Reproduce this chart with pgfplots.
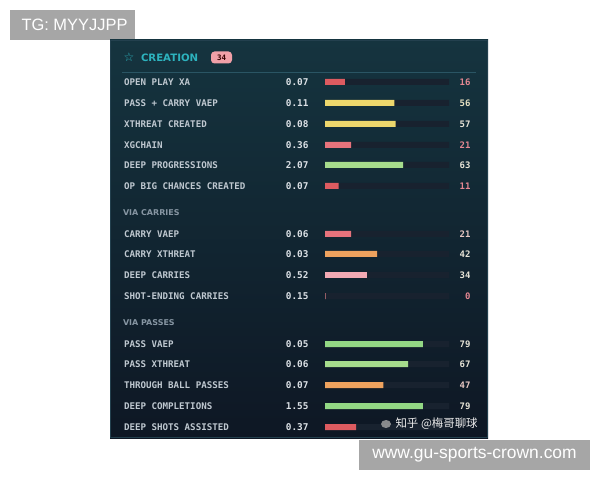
\documentclass[border=0pt]{standalone}
\usepackage{pgfplots}
\pgfplotsset{compat=1.18}
\usepackage{fontspec}
\setmainfont{DejaVu Sans}
\newfontfamily\mono{DejaVu Sans Mono}
\newfontfamily\lib{Liberation Sans}
\newfontfamily\cjk{Noto Sans CJK SC}
\definecolor{paneltop}{HTML}{15343F}
\definecolor{panelbot}{HTML}{0E1724}
\definecolor{border}{HTML}{23404E}
\definecolor{divider}{HTML}{2A5564}
\definecolor{track}{HTML}{18222F}
\definecolor{lab}{HTML}{BFC8D0}
\definecolor{valc}{HTML}{DCE1E6}
\definecolor{teal}{HTML}{2DB3BE}
\definecolor{head}{HTML}{8796A3}
\definecolor{cred}{HTML}{DD5B60}
\definecolor{cpinkred}{HTML}{E7737C}
\definecolor{cyellow}{HTML}{EDD76C}
\definecolor{cgreen}{HTML}{A6DC8C}
\definecolor{cgreen2}{HTML}{93D884}
\definecolor{corange}{HTML}{EEA25E}
\definecolor{cpink}{HTML}{F2A9B3}
\definecolor{pctpink}{HTML}{E58792}
\definecolor{pctlight}{HTML}{E6E3D6}
\definecolor{badge}{HTML}{F1A0A8}
\definecolor{graybox}{HTML}{A6A6A6}
\tikzset{
  lbl/.style={anchor=west,text=lab,font=\mono\bfseries\fontsize{9.2}{11}\selectfont},
  val/.style={anchor=east,text=valc,font=\mono\bfseries\fontsize{9.4}{11}\selectfont},
  pct/.style={anchor=east,font=\mono\bfseries\fontsize{9}{11}\selectfont},
  sub/.style={anchor=west,text=head,font=\bfseries\fontsize{8}{9}\selectfont},
}
\begin{document}
\begin{tikzpicture}
\begin{axis}[at={(0,0)},anchor=south west,width=600bp,height=480bp,scale only axis,
  xmin=0,xmax=600,ymin=0,ymax=480,y dir=reverse,hide axis,clip=false]
\fill[white] (axis cs:0,0) rectangle (axis cs:600,480);
% corner boxes
\fill[graybox] (axis cs:10,10) rectangle (axis cs:135,40);
\node[anchor=west,text=white,font=\lib\fontsize{16.5}{18}\selectfont] at (axis cs:18,25) {TG: MYYJJPP};
% panel
\shade[top color=paneltop,bottom color=panelbot] (axis cs:110,40) rectangle (axis cs:488,438);
\draw[border,line width=1.2bp] (axis cs:110.5,40.5) rectangle (axis cs:487.5,437.5);
\draw[divider,line width=0.8bp] (axis cs:122,72) -- (axis cs:476,72);
% header
\node[anchor=center,text=teal,font=\bfseries\fontsize{12}{14}\selectfont] at (axis cs:129,57.5) {☆};
\node[anchor=west,text=teal,font=\bfseries\fontsize{10.2}{12}\selectfont] at (axis cs:137.5,57.5) {CREATION};
\fill[badge,rounded corners=3.5bp] (axis cs:211,51.5) rectangle (axis cs:232,63.5);
\node[text=black!80!red,font=\mono\bfseries\fontsize{7.5}{9}\selectfont] at (axis cs:221.5,57.5) {34};
% labels
\node[lbl] at (axis cs:120.5,82) {OPEN PLAY XA};
\node[lbl] at (axis cs:120.5,103) {PASS + CARRY VAEP};
\node[lbl] at (axis cs:120.5,124) {XTHREAT CREATED};
\node[lbl] at (axis cs:120.5,145) {XGCHAIN};
\node[lbl] at (axis cs:120.5,165) {DEEP PROGRESSIONS};
\node[lbl] at (axis cs:120.5,186) {OP BIG CHANCES CREATED};
\node[sub] at (axis cs:119.5,213) {VIA CARRIES};
\node[lbl] at (axis cs:120.5,234) {CARRY VAEP};
\node[lbl] at (axis cs:120.5,254) {CARRY XTHREAT};
\node[lbl] at (axis cs:120.5,275) {DEEP CARRIES};
\node[lbl] at (axis cs:120.5,296) {SHOT-ENDING CARRIES};
\node[sub] at (axis cs:119.5,323) {VIA PASSES};
\node[lbl] at (axis cs:120.5,344) {PASS VAEP};
\node[lbl] at (axis cs:120.5,364) {PASS XTHREAT};
\node[lbl] at (axis cs:120.5,385) {THROUGH BALL PASSES};
\node[lbl] at (axis cs:120.5,406) {DEEP COMPLETIONS};
\node[lbl] at (axis cs:120.5,427) {DEEP SHOTS ASSISTED};
% values
\node[val] at (axis cs:312,82) {0.07};
\node[val] at (axis cs:312,103) {0.11};
\node[val] at (axis cs:312,124) {0.08};
\node[val] at (axis cs:312,145) {0.36};
\node[val] at (axis cs:312,165) {2.07};
\node[val] at (axis cs:312,186) {0.07};
\node[val] at (axis cs:312,234) {0.06};
\node[val] at (axis cs:312,254) {0.03};
\node[val] at (axis cs:312,275) {0.52};
\node[val] at (axis cs:312,296) {0.15};
\node[val] at (axis cs:312,344) {0.05};
\node[val] at (axis cs:312,364) {0.06};
\node[val] at (axis cs:312,385) {0.07};
\node[val] at (axis cs:312,406) {1.55};
\node[val] at (axis cs:312,427) {0.37};
% percentiles
\node[pct,text=pctpink] at (axis cs:474,82) {16};
\node[pct,text=pctlight!80!cyellow] at (axis cs:474,103) {56};
\node[pct,text=pctlight] at (axis cs:474,124) {57};
\node[pct,text=pctpink] at (axis cs:474,145) {21};
\node[pct,text=pctlight] at (axis cs:474,165) {63};
\node[pct,text=pctpink] at (axis cs:474,186) {11};
\node[pct,text=pctlight!70!pctpink] at (axis cs:474,234) {21};
\node[pct,text=pctlight] at (axis cs:474,254) {42};
\node[pct,text=pctlight] at (axis cs:474,275) {34};
\node[pct,text=pctpink] at (axis cs:474,296) {0};
\node[pct,text=pctlight] at (axis cs:474,344) {79};
\node[pct,text=pctlight] at (axis cs:474,364) {67};
\node[pct,text=pctlight!70!pctpink] at (axis cs:474,385) {47};
\node[pct,text=pctlight] at (axis cs:474,406) {79};
\end{axis}
\begin{axis}[at={(325bp,0)},anchor=south west,width=124bp,height=480bp,scale only axis,
  xmin=0,xmax=100,ymin=0,ymax=480,y dir=reverse,hide axis,clip=false,
  every axis plot/.append style={xbar,bar width=6bp,bar shift=0pt}]
\addplot[fill=track,draw=none] coordinates {(100,82) (100,103) (100,124) (100,145) (100,165) (100,186)
  (100,234) (100,254) (100,275) (100,296) (100,344) (100,364) (100,385) (100,406) (100,427)};
\addplot[fill=cred,draw=none] coordinates {(16,82) (11,186) (25,427)};
\addplot[fill=cyellow,draw=none] coordinates {(56,103) (57,124)};
\addplot[fill=cpinkred,draw=none] coordinates {(21,145) (21,234)};
\addplot[fill=cgreen,draw=none] coordinates {(63,165) (67,364)};
\addplot[fill=cgreen2,draw=none] coordinates {(79,344) (79,406)};
\addplot[fill=corange,draw=none] coordinates {(42,254) (47,385)};
\addplot[fill=cpink,draw=none] coordinates {(34,275)};
\addplot[fill=cpinkred,draw=cpinkred!70!gray,line width=0.6bp] coordinates {(0,296)};
\end{axis}
\begin{axis}[at={(0,0)},anchor=south west,width=600bp,height=480bp,scale only axis,
  xmin=0,xmax=600,ymin=0,ymax=480,y dir=reverse,hide axis,clip=false]
\fill[gray!70,opacity=0.8] (axis cs:386,424) ellipse [x radius=5bp,y radius=4bp];
\node[anchor=west,text=white!85!gray,font=\cjk\fontsize{11.5}{13}\selectfont] at (axis cs:392,424) {知乎 @梅哥聊球};
\fill[graybox] (axis cs:359,440) rectangle (axis cs:590,470);
\node[text=white,font=\lib\fontsize{17.5}{19}\selectfont] at (axis cs:474.5,455) {www.gu-sports-crown.com};
\end{axis}
\end{tikzpicture}
\end{document}
